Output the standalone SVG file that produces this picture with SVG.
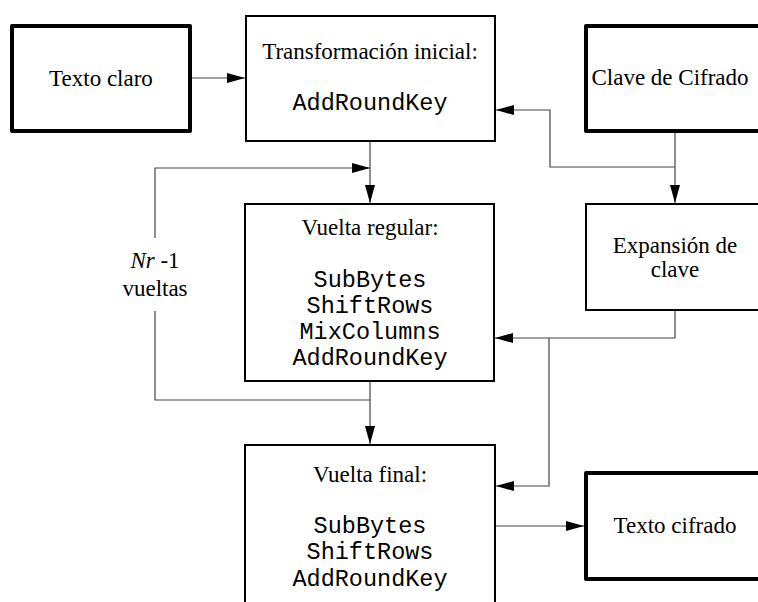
<svg xmlns="http://www.w3.org/2000/svg" width="758" height="602" viewBox="0 0 758 602">
<defs>
<style>
.bg{fill:#fff}
.thin{fill:#fff;stroke:#000;stroke-width:2}
.thick{fill:#fff;stroke:#000;stroke-width:4;stroke-linejoin:round}
.serif{font-family:"Liberation Serif","Times New Roman",serif;font-size:23px;fill:#000;text-anchor:middle}
.mono{font-family:"Liberation Mono","Courier New",monospace;font-size:23.5px;fill:#000;text-anchor:middle}
.conn{fill:none;stroke:#444;stroke-width:1.2}
.arr{marker-end:url(#ah)}
</style>
<marker id="ah" viewBox="0 0 18 10" refX="18" refY="5" markerWidth="18" markerHeight="10" markerUnits="userSpaceOnUse" orient="auto">
<path d="M0,0 L18,5 L0,10 z" fill="#000"/>
</marker>
</defs>
<rect class="bg" x="0" y="0" width="758" height="602"/>

<g id="connectors">
<line class="conn arr" x1="192" y1="78" x2="245" y2="78"/>
<line class="conn arr" x1="675" y1="133" x2="675" y2="203"/>
<polyline class="conn arr" points="675,167 550,167 550,110 496,110"/>
<line class="conn arr" x1="370" y1="142" x2="370" y2="203"/>
<polyline class="conn" points="370,400 155,400 155,311"/>
<polyline class="conn arr" points="155,238 155,168 370,168"/>
<line class="conn arr" x1="370" y1="382" x2="370" y2="444"/>
<polyline class="conn arr" points="675,310 675,338 495,338"/>
<polyline class="conn arr" points="549,338 549,486 496,486"/>
<line class="conn arr" x1="496" y1="526" x2="584" y2="526"/>
</g>

<g id="texto-claro">
<rect class="thick" x="12" y="26" width="178" height="105"/>
<text class="serif" x="101" y="86">Texto claro</text>
</g>

<g id="transformacion-inicial">
<rect class="thin" x="246" y="16" width="249" height="125"/>
<text class="serif" x="370" y="59">Transformación inicial:</text>
<text class="mono" x="370" y="110">AddRoundKey</text>
</g>

<g id="clave-cifrado">
<rect class="thick" x="586" y="26" width="200" height="105"/>
<text class="serif" x="670" y="85">Clave de Cifrado</text>
</g>

<g id="vuelta-regular">
<rect class="thin" x="245" y="204" width="249" height="177"/>
<text class="serif" x="370" y="235">Vuelta regular:</text>
<text class="mono" x="370" y="287">SubBytes</text>
<text class="mono" x="370" y="313">ShiftRows</text>
<text class="mono" x="370" y="339">MixColumns</text>
<text class="mono" x="370" y="365">AddRoundKey</text>
</g>

<g id="expansion-clave">
<rect class="thin" x="586" y="204" width="200" height="106"/>
<text class="serif" x="675" y="253">Expansión de</text>
<text class="serif" x="675" y="277">clave</text>
</g>

<g id="vueltas-label">
<text class="serif" x="155" y="268"><tspan font-style="italic">Nr</tspan> -1</text>
<text class="serif" x="155" y="296">vueltas</text>
</g>

<g id="vuelta-final">
<rect class="thin" x="245" y="445" width="250" height="200"/>
<text class="serif" x="370" y="482">Vuelta final:</text>
<text class="mono" x="370" y="533">SubBytes</text>
<text class="mono" x="370" y="559">ShiftRows</text>
<text class="mono" x="370" y="586">AddRoundKey</text>
</g>

<g id="texto-cifrado">
<rect class="thick" x="586" y="473" width="200" height="106"/>
<text class="serif" x="675" y="533">Texto cifrado</text>
</g>
</svg>
